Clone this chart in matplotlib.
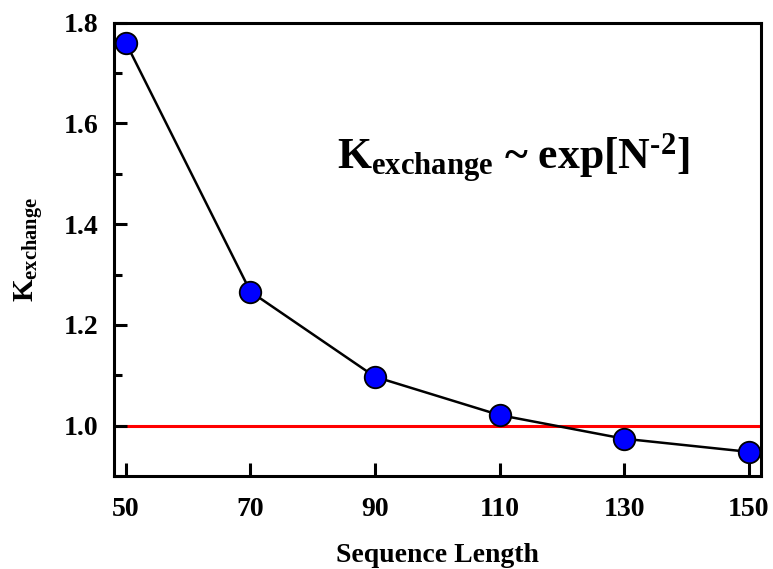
import numpy as np
import matplotlib
matplotlib.use("Agg")
import matplotlib.pyplot as plt
from matplotlib.ticker import MultipleLocator

# Data
seq_length = [50, 70, 90, 110, 130, 150]
k_exchange = [1.760, 1.266, 1.097, 1.021, 0.974, 0.948]
x_ticks = [50, 70, 90, 110, 130, 150]
y_ticks = [1.0, 1.2, 1.4, 1.6, 1.8]
ref_level = 1.0

plt.rcParams['font.family'] = ['Liberation Serif', 'DejaVu Serif']
plt.rcParams['font.weight'] = 'bold'
plt.rcParams['mathtext.fontset'] = 'custom'
plt.rcParams['mathtext.rm'] = 'Liberation Serif:bold'
plt.rcParams['mathtext.it'] = 'Liberation Serif:bold'
plt.rcParams['mathtext.bf'] = 'Liberation Serif:bold'

fig = plt.figure(figsize=(7.73, 5.69), dpi=100)
ax = fig.add_axes([113.5 / 773, 1 - 476 / 569, (761 - 113.5) / 773, (476 - 22.7) / 569])

ax.axhline(ref_level, color='red', lw=2.2, zorder=1)
ax.plot(seq_length, k_exchange, '-', color='black', lw=1.8, zorder=2)
ax.plot(seq_length, k_exchange, 'o', ms=15.5, mfc='#0000ff', mec='black',
        mew=1.3, zorder=3, clip_on=False)

ax.set_xlim(48, 152)
ax.set_ylim(0.9, 1.8)
ax.set_xticks(x_ticks)
ax.set_yticks(y_ticks)
ax.yaxis.set_minor_locator(MultipleLocator(0.1))
ax.tick_params(axis='both', which='both', direction='in', labelsize=20,
               width=2.2, top=False, right=False)
ax.tick_params(axis='both', which='major', length=9.5)
ax.tick_params(axis='x', which='major', pad=15)
ax.tick_params(axis='y', which='major', pad=11)
ax.tick_params(axis='y', which='minor', length=6)
for lab in ax.get_xticklabels() + ax.get_yticklabels():
    lab.set_fontweight('bold')
for sp in ax.spines.values():
    sp.set_linewidth(2.2)

ax.set_xlabel('Sequence Length', fontsize=20, fontweight='bold', labelpad=15)
ax.set_ylabel(r'K$_{\mathrm{exchange}}$', fontsize=21, fontweight='bold', labelpad=13)

ax.text(0.618, 0.70, 'K$_{\\mathrm{exchange}}$ ~ exp[N$^{\\mathrm{\u2010 2}}$]',
        transform=ax.transAxes, fontsize=31.5, fontweight='bold',
        ha='center', va='center')

fig.savefig('out.png', dpi=100)
